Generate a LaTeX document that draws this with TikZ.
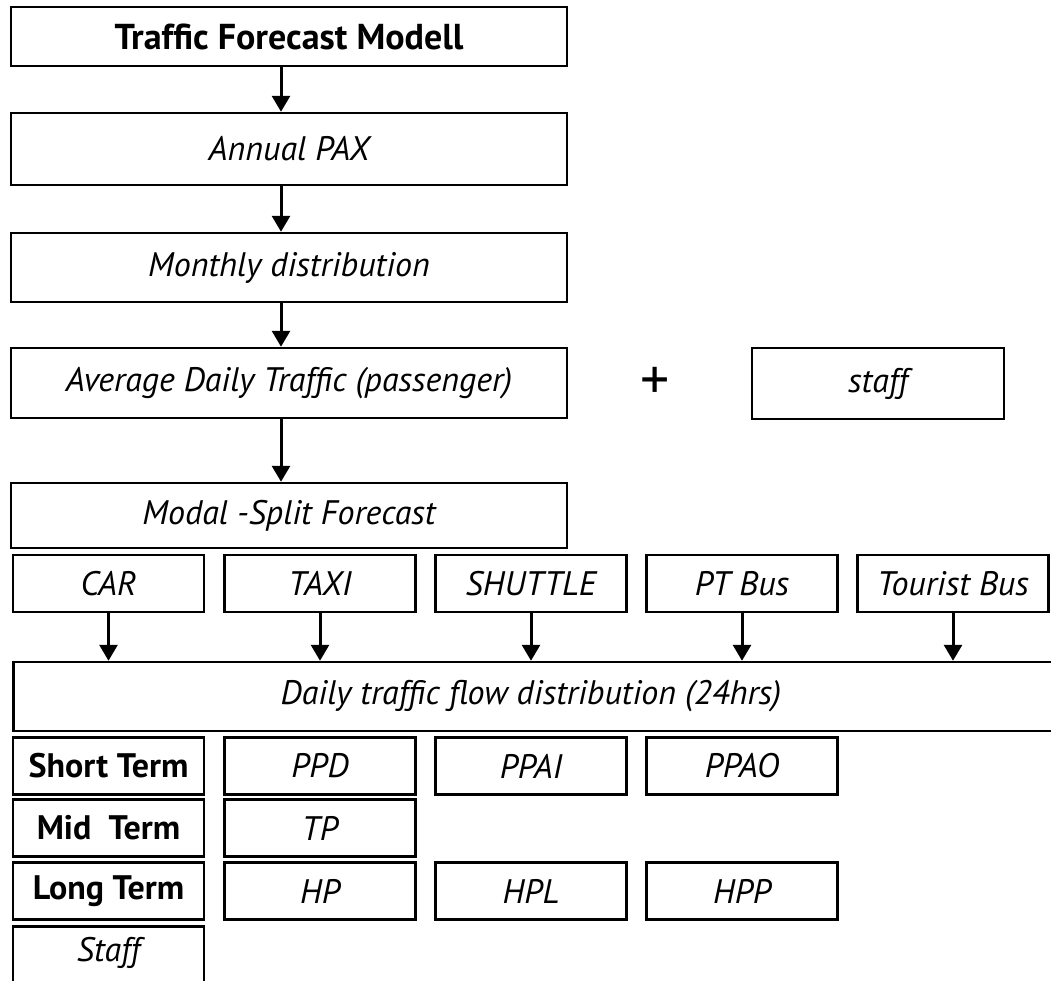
\documentclass[tikz,border=0pt]{standalone}
\usepackage{fontspec}
\setmainfont{PT Sans}
\usetikzlibrary{arrows.meta}
\begin{document}
\begin{tikzpicture}[x=1pt,y=-1pt,
  box/.style={draw=black,line width=2.5pt,inner sep=0pt,align=center,
    font=\fontsize{34}{40}\selectfont\itshape},
  wide/.style={box,minimum width=556pt},
  cell/.style={box,minimum width=191pt,minimum height=57pt},
  lbl/.style={cell,font=\fontsize{34}{40}\selectfont\bfseries},
  arr/.style={line width=3pt,-{Triangle[width=18pt,length=16pt]}}]
\useasboundingbox (0,0) rectangle (1051,980);
% main column
\node[wide,minimum height=59pt,font=\fontsize{36}{42}\selectfont\bfseries] (tfm) at (289,36.5) {Traffic Forecast Modell};
\node[wide,minimum height=72pt] (pax) at (289,149) {Annual PAX};
\node[wide,minimum height=69pt] (month) at (289,267.5) {Monthly distribution};
\node[wide,minimum height=70pt] (adt) at (289,383) {Average Daily Traffic (passenger)};
\node[font=\fontsize{58}{58}\selectfont] (plus) at (655,383) {+};
\node[box,minimum width=252pt,minimum height=71pt] (staff) at (878,383.5) {staff};
\node[wide,minimum height=65pt] (modal) at (289,515.5) {Modal -Split Forecast};
% transport modes
\node[cell] (car) at (108.5,583.5) {CAR};
\node[cell] (taxi) at (320,583.5) {TAXI};
\node[cell] (shuttle) at (531,583.5) {SHUTTLE};
\node[cell] (ptbus) at (742,583.5) {PT Bus};
\node[cell] (tbus) at (953,583.5) {Tourist Bus};
% daily flow (runs beyond the right edge)
\node[box,minimum width=1070pt,minimum height=69pt,anchor=west] (daily) at (12,696.5) {};
\node[font=\fontsize{34}{40}\selectfont\itshape] (dailytxt) at (531,696.5) {Daily traffic flow distribution (24hrs)};
% terms
\node[lbl] (short) at (108.5,766) {Short Term};
\node[cell] (ppd) at (320,766) {PPD};
\node[cell] (ppai) at (531,766) {PPAI};
\node[cell] (ppao) at (742,766) {PPAO};
\node[lbl] (mid) at (108.5,828) {Mid\ \ Term};
\node[cell] (tp) at (320,828) {TP};
\node[lbl] (long) at (108.5,891) {Long Term};
\node[cell] (hp) at (320,891) {HP};
\node[cell] (hpl) at (531,891) {HPL};
\node[cell] (hpp) at (742,891) {HPP};
\node[cell,minimum height=64pt,anchor=north] (staffrow) at (108.5,925) {};
\node[font=\fontsize{34}{40}\selectfont\itshape] (stafftxt) at (108.5,953) {Staff};
% arrows
\draw[arr] ([xshift=-8pt]tfm.south) -- ([xshift=-8pt]pax.north);
\draw[arr] ([xshift=-8pt]pax.south) -- ([xshift=-8pt]month.north);
\draw[arr] ([xshift=-8pt]month.south) -- ([xshift=-8pt]adt.north);
\draw[arr] ([xshift=-8pt]adt.south) -- ([xshift=-8pt]modal.north);
\foreach \n in {car,taxi,shuttle,ptbus,tbus}
  \draw[arr] (\n.south) -- (\n.south |- daily.north);
\end{tikzpicture}
\end{document}
